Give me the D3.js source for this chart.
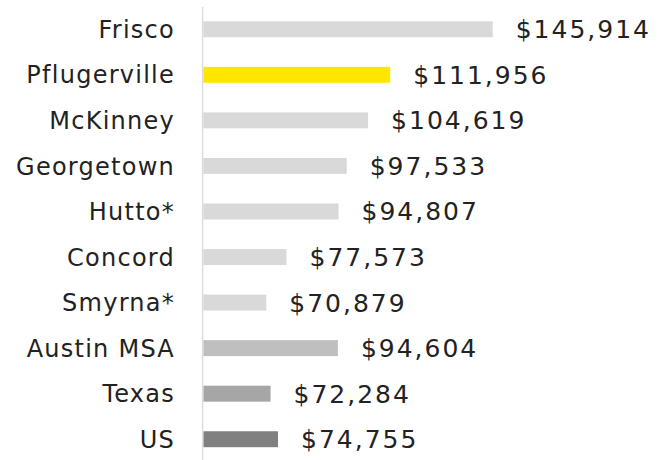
<!DOCTYPE html>
<html>
<head>
  <meta http-equiv="Content-Type" content="text/html;charset=utf-8">
  <title>Median household income</title>
  <script src="https://d3js.org/d3.v7.min.js"></script>
  <style type="text/css">
    body { margin: 0; background: #fff; }
    .label { font-family: "DejaVu Sans", sans-serif; font-size: 24px; letter-spacing: 1.25px; fill: #222; }
    .value { font-family: "DejaVu Sans", sans-serif; font-size: 25px; letter-spacing: 2px; fill: #222; }
  </style>
</head>
<body>
  <svg width="670" height="460"></svg>
  <script type='text/javascript'>
    const places = ['Frisco', 'Pflugerville', 'McKinney', 'Georgetown', 'Hutto*', 'Concord', 'Smyrna*', 'Austin MSA', 'Texas', 'US'];
    const incomes = [145914, 111956, 104619, 97533, 94807, 77573, 70879, 94604, 72284, 74755];
    const colors = ['#d9d9d9', '#ffe600', '#d9d9d9', '#d9d9d9', '#d9d9d9', '#d9d9d9', '#d9d9d9', '#bfbfbf', '#a6a6a6', '#808080'];

    const svg = d3.select('svg');
    const left = 203.3;

    const y = d3.scaleBand()
      .domain(places)
      .range([6.5, 462])
      .paddingInner(0.65)
      .paddingOuter(0.325);

    const x = d3.scaleLinear()
      .domain([50000, 145914])
      .range([left, 492.7]);

    const rows = places.map((p, i) => ({ place: p, value: incomes[i], color: colors[i] }));

    svg.selectAll('rect')
      .data(rows)
      .enter().append('rect')
        .attr('x', left)
        .attr('y', (d) => y(d.place))
        .attr('width', (d) => x(d.value) - left)
        .attr('height', y.bandwidth())
        .attr('fill', (d) => d.color);

    // vertical axis line
    svg.append('line')
      .attr('x1', 202.6).attr('x2', 202.6)
      .attr('y1', 7).attr('y2', 460)
      .attr('stroke', '#dcdce2')
      .attr('stroke-width', 1.5);

    svg.selectAll('text.label')
      .data(rows)
      .enter().append('text')
        .attr('class', 'label')
        .attr('x', 175)
        .attr('y', (d) => y(d.place) + y.bandwidth() / 2)
        .attr('dy', '0.36em')
        .attr('text-anchor', 'end')
        .text((d) => d.place);

    const fmt = d3.format('$,');
    svg.selectAll('text.value')
      .data(rows)
      .enter().append('text')
        .attr('class', 'value')
        .attr('x', (d) => x(d.value) + 23)
        .attr('y', (d) => y(d.place) + y.bandwidth() / 2)
        .attr('dy', '0.36em')
        .text((d) => fmt(d.value));
  </script>
</body>
</html>
